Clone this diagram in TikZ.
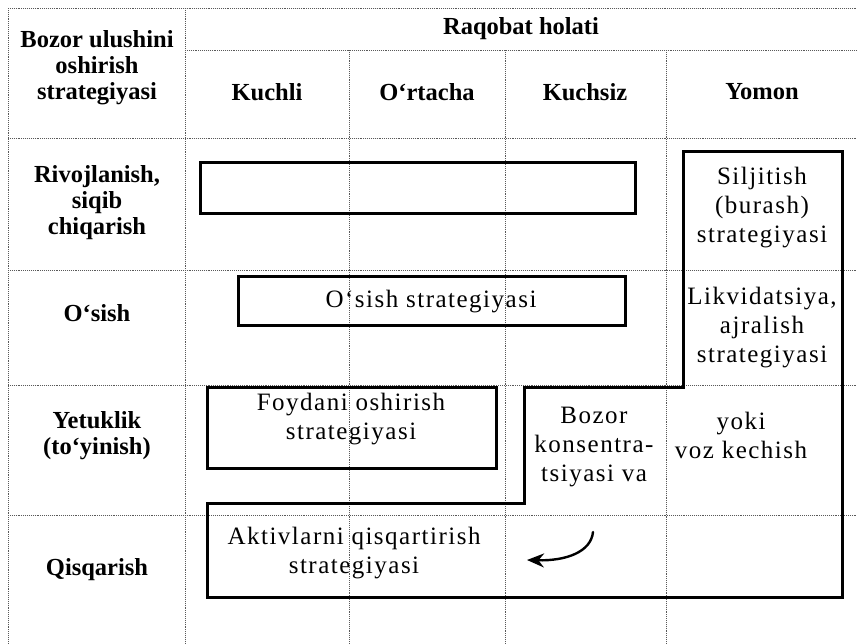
\documentclass[tikz,border=0pt]{standalone}
\usepackage{fontspec}
\setmainfont{Liberation Serif}
\newfontfamily\spacedfont[LetterSpace=6]{Liberation Serif}
\usetikzlibrary{arrows.meta}

\begin{document}
\begin{tikzpicture}[
            x=1pt, y=-1pt,
            grid line/.style={densely dotted, draw=black!65, line width=0.9pt},
            strat box/.style={draw, line width=3pt},
            head node/.style={align=center, font=\fontsize{24.5}{26}\selectfont\bfseries},
            cell node/.style={align=center, font=\fontsize{25}{29}\selectfont\spacedfont},
        ]
            \useasboundingbox (0,0) rectangle (857,643);

            % table grid
            \draw[grid line] (8,8) -- (857,8);
            \draw[grid line] (185,50) -- (857,50);
            \draw[grid line] (8,138) -- (857,138);
            \draw[grid line] (8,270) -- (857,270);
            \draw[grid line] (8,385) -- (857,385);
            \draw[grid line] (8,515) -- (857,515);
            \draw[grid line] (8,8) -- (8,643);
            \draw[grid line] (185,8) -- (185,643);
            \draw[grid line] (349,50) -- (349,643);
            \draw[grid line] (505,50) -- (505,643);
            \draw[grid line] (666,50) -- (666,643);

            % headers
            \node[head node] (corner) at (97,68) {Bozor ulushini\\oshirish\\strategiyasi};
            \node[head node] (raqobat) at (521,29) {Raqobat holati};
            \node[head node] (kuchli) at (267,92) {Kuchli};
            \node[head node] (ortacha) at (427,92) {O‘rtacha};
            \node[head node] (kuchsiz) at (585,92) {Kuchsiz};
            \node[head node] (yomon) at (762,92) {Yomon};

            \node[head node] (rivoj) at (97,203) {Rivojlanish,\\siqib\\chiqarish};
            \node[head node] (osish) at (97,313) {O‘sish};
            \node[head node] (yetuk) at (97,436) {Yetuklik\\(to‘yinish)};
            \node[head node] (qisqa) at (97,570) {Qisqarish};

            % strategy boxes
            \draw[strat box] (200,162) rectangle (635,213);
            \draw[strat box] (238,276) rectangle (625,325);
            \draw[strat box] (207,387) rectangle (496,468);
            \draw[strat box] (683,151) -- (842,151) -- (842,597) -- (207,597)
                -- (207,503) -- (524,503) -- (524,387) -- (683,387) -- cycle;

            \node[cell node] (siljitish) at (762,208) {Siljitish\\(burash)\\strategiyasi};
            \node[cell node] (likvid) at (762,328) {Likvidatsiya,\\ajralish\\strategiyasi};
            \node[cell node] (osish strat) at (431,302) {O‘sish strategiyasi};
            \node[cell node] (foyda) at (351,419) {Foydani oshirish\\strategiyasi};
            \node[cell node] (konsen) at (594,447) {Bozor\\konsentra-\\tsiyasi va};
            \node[cell node] (vozkech) at (741,435) {yoki\\voz kechish};
            \node[cell node] (aktiv) at (354,553) {Aktivlarni qisqartirish\\strategiyasi};

            \coordinate (arrow start) at (593,532);
            \coordinate (arrow end) at (527,560);
            \draw[line width=2.4pt, line cap=round, -{Stealth[length=17pt,width=14pt]}]
                (arrow start) .. controls (591,552) and (566,561) .. (arrow end);
        \end{tikzpicture}
\end{document}
